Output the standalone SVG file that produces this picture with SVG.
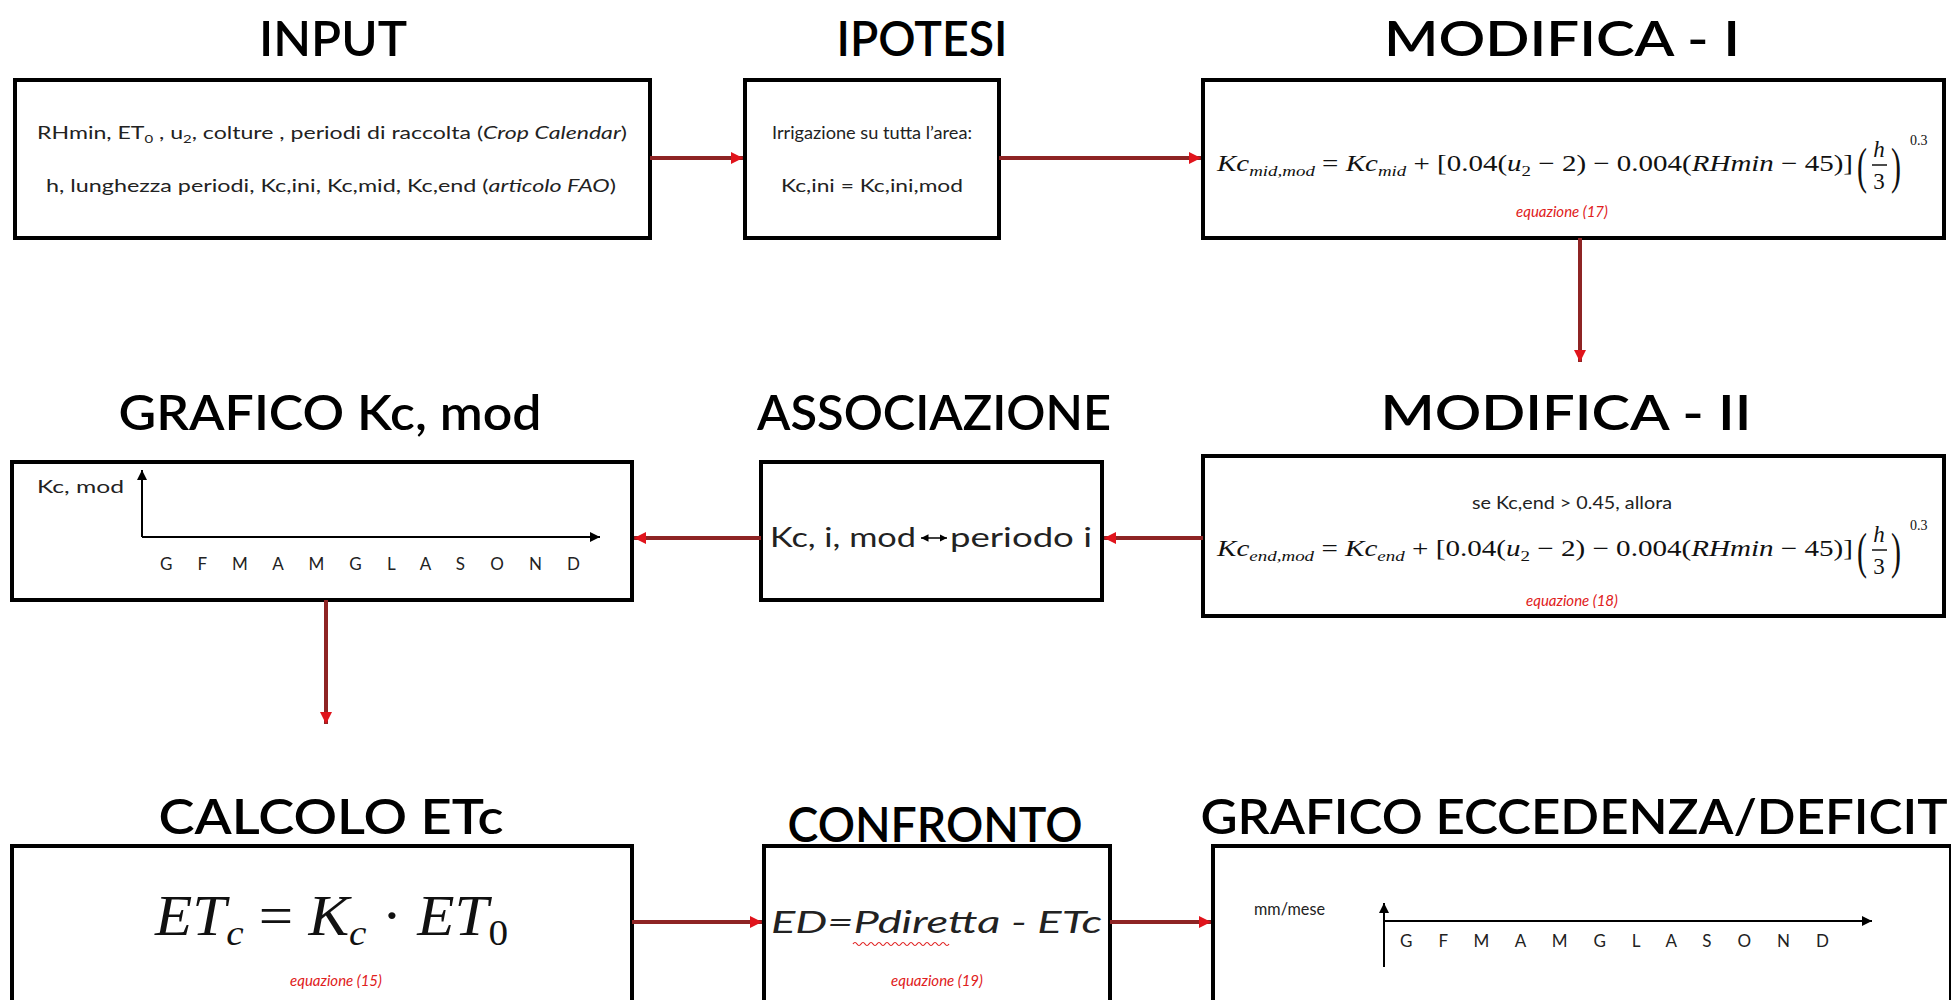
<svg xmlns="http://www.w3.org/2000/svg" width="1951" height="1000" viewBox="0 0 1951 1000">
<style>
.box{fill:#fff;stroke:#000;stroke-width:4}
.title{font-family:Lato,"Open Sans","DejaVu Sans",sans-serif;font-weight:600;fill:#000;text-anchor:middle}
.body{font-family:Lato,"Open Sans","Liberation Sans",sans-serif;fill:#222}
.math{font-family:"Liberation Serif","DejaVu Serif",serif;fill:#111}
.it{font-style:italic}
.eq{font-family:Lato,"Open Sans","Liberation Sans",sans-serif;font-style:italic;fill:#e02020;text-anchor:middle}
.conn{stroke:#8e2424;stroke-width:4;fill:none;marker-end:url(#ra)}
.axis{stroke:#000;stroke-width:2;fill:none;marker-end:url(#ba)}
.month{font-family:Lato,"Open Sans","Liberation Sans",sans-serif;fill:#222}
</style>
<defs>
<marker id="ra" viewBox="0 0 12 12" refX="12" refY="6" markerWidth="12" markerHeight="12" orient="auto" markerUnits="userSpaceOnUse"><path d="M0,0 L12,6 L0,12 z" fill="#e0141c"/></marker>
<marker id="ba" viewBox="0 0 10 10" refX="10" refY="5" markerWidth="5" markerHeight="5" orient="auto" markerUnits="strokeWidth"><path d="M0,0 L10,5 L0,10 z" fill="#000"/></marker>
<marker id="bs" viewBox="0 0 10 10" refX="0" refY="5" markerWidth="5" markerHeight="5" orient="auto" markerUnits="strokeWidth"><path d="M10,0 L0,5 L10,10 z" fill="#000"/></marker>
</defs>
<rect width="1951" height="1000" fill="#fff"/>

<g id="input">
<text class="title" x="333" y="56" font-size="48" textLength="148" lengthAdjust="spacingAndGlyphs">INPUT</text>
<rect class="box" x="15" y="80" width="635" height="158"/>
<text class="body" x="37" y="139" font-size="17" textLength="590" lengthAdjust="spacingAndGlyphs">RHmin, ET<tspan font-size="11" dy="4">0</tspan><tspan dy="-4"> , u</tspan><tspan font-size="11" dy="4">2</tspan><tspan dy="-4">, colture , periodi di raccolta (</tspan><tspan class="it">Crop Calendar</tspan>)</text>
<text class="body" x="46" y="192" font-size="17" textLength="570" lengthAdjust="spacingAndGlyphs">h, lunghezza periodi, Kc,ini, Kc,mid, Kc,end (<tspan class="it">articolo FAO</tspan>)</text>
</g>

<g id="ipotesi">
<text class="title" x="922" y="56" font-size="48" textLength="171" lengthAdjust="spacingAndGlyphs">IPOTESI</text>
<rect class="box" x="745" y="80" width="254" height="158"/>
<text class="body" x="872" y="139" font-size="17" text-anchor="middle" textLength="200" lengthAdjust="spacingAndGlyphs">Irrigazione su tutta l’area:</text>
<text class="body" x="872" y="192" font-size="17" text-anchor="middle" textLength="182" lengthAdjust="spacingAndGlyphs">Kc,ini = Kc,ini,mod</text>
</g>

<g id="modifica1">
<text class="title" x="1562" y="56" font-size="48" textLength="356" lengthAdjust="spacingAndGlyphs">MODIFICA - I</text>
<rect class="box" x="1203" y="80" width="741" height="158"/>
<text class="math" x="1217" y="171" font-size="23" textLength="636" lengthAdjust="spacingAndGlyphs"><tspan class="it">Kc</tspan><tspan class="it" font-size="15" dy="5">mid,mod</tspan><tspan dy="-5"> = </tspan><tspan class="it">Kc</tspan><tspan class="it" font-size="15" dy="5">mid</tspan><tspan dy="-5"> + [0.04(</tspan><tspan class="it">u</tspan><tspan font-size="15" dy="5">2</tspan><tspan dy="-5"> − 2) − 0.004(</tspan><tspan class="it">RHmin</tspan> − 45)]</text>
<text class="math" x="1857" y="183" font-size="50" transform="translate(1857 183) scale(0.6 1) translate(-1857 -183)">(</text>
<text class="math it" x="1879" y="157" font-size="23" text-anchor="middle">h</text>
<line x1="1872" y1="165" x2="1887" y2="165" stroke="#111" stroke-width="1.5"/>
<text class="math" x="1879" y="189" font-size="23" text-anchor="middle">3</text>
<text class="math" x="1891" y="183" font-size="50" transform="translate(1891 183) scale(0.6 1) translate(-1891 -183)">)</text>
<text class="math" x="1910" y="145" font-size="14">0.3</text>
<text class="eq" x="1562" y="217" font-size="15">equazione (17)</text>
</g>

<g id="modifica2">
<text class="title" x="1566" y="430" font-size="48" textLength="371" lengthAdjust="spacingAndGlyphs">MODIFICA - II</text>
<rect class="box" x="1203" y="456" width="741" height="160"/>
<text class="body" x="1572" y="509" font-size="17" text-anchor="middle" textLength="200" lengthAdjust="spacingAndGlyphs">se Kc,end &gt; 0.45, allora</text>
<text class="math" x="1217" y="556" font-size="23" textLength="636" lengthAdjust="spacingAndGlyphs"><tspan class="it">Kc</tspan><tspan class="it" font-size="15" dy="5">end,mod</tspan><tspan dy="-5"> = </tspan><tspan class="it">Kc</tspan><tspan class="it" font-size="15" dy="5">end</tspan><tspan dy="-5"> + [0.04(</tspan><tspan class="it">u</tspan><tspan font-size="15" dy="5">2</tspan><tspan dy="-5"> − 2) − 0.004(</tspan><tspan class="it">RHmin</tspan> − 45)]</text>
<text class="math" x="1857" y="568" font-size="50" transform="translate(1857 568) scale(0.6 1) translate(-1857 -568)">(</text>
<text class="math it" x="1879" y="542" font-size="23" text-anchor="middle">h</text>
<line x1="1872" y1="550" x2="1887" y2="550" stroke="#111" stroke-width="1.5"/>
<text class="math" x="1879" y="574" font-size="23" text-anchor="middle">3</text>
<text class="math" x="1891" y="568" font-size="50" transform="translate(1891 568) scale(0.6 1) translate(-1891 -568)">)</text>
<text class="math" x="1910" y="530" font-size="14">0.3</text>
<text class="eq" x="1572" y="606" font-size="15">equazione (18)</text>
</g>

<g id="associazione">
<text class="title" x="934" y="430" font-size="48" textLength="354" lengthAdjust="spacingAndGlyphs">ASSOCIAZIONE</text>
<rect class="box" x="761" y="462" width="341" height="138"/>
<text class="body" x="770" y="547" font-size="26" textLength="146" lengthAdjust="spacingAndGlyphs">Kc, i, mod</text>
<line x1="921" y1="538" x2="947" y2="538" stroke="#000" stroke-width="1.5" marker-end="url(#ba)" marker-start="url(#bs)"/>
<text class="body" x="950" y="547" font-size="26" textLength="142" lengthAdjust="spacingAndGlyphs">periodo i</text>
</g>

<g id="graficokc">
<text class="title" x="330" y="430" font-size="48" textLength="423" lengthAdjust="spacingAndGlyphs">GRAFICO Kc, mod</text>
<rect class="box" x="12" y="462" width="620" height="138"/>
<text class="body" x="37" y="493" font-size="17" textLength="87" lengthAdjust="spacingAndGlyphs">Kc, mod</text>
<line class="axis" x1="142" y1="537" x2="142" y2="470"/>
<line class="axis" x1="142" y1="537" x2="600" y2="537"/>
<text class="month" x="160" y="570" font-size="17" textLength="420" lengthAdjust="spacing">G F M A M G L A S O N D</text>
</g>

<g id="calcolo">
<text class="title" x="331" y="834" font-size="48" textLength="345" lengthAdjust="spacingAndGlyphs">CALCOLO ETc</text>
<rect class="box" x="12" y="846" width="620" height="160"/>
<text class="math it" x="155" y="935" font-size="56" textLength="353" lengthAdjust="spacingAndGlyphs">ET<tspan font-size="36" dy="10">c</tspan><tspan dy="-10" font-style="normal"> = </tspan>K<tspan font-size="36" dy="10">c</tspan><tspan dy="-10" font-style="normal"> · </tspan>ET<tspan font-size="36" dy="10" font-style="normal">0</tspan></text>
<text class="eq" x="336" y="986" font-size="15">equazione (15)</text>
</g>

<g id="confronto">
<text class="title" x="935" y="842" font-size="48" textLength="295" lengthAdjust="spacingAndGlyphs">CONFRONTO</text>
<rect class="box" x="764" y="846" width="346" height="160"/>
<text class="body it" x="771" y="933" font-size="31" textLength="331" lengthAdjust="spacingAndGlyphs">ED=Pdiretta - ETc</text>
<path d="M853,944 q2,-3 4,0 t4,0 t4,0 t4,0 t4,0 t4,0 t4,0 t4,0 t4,0 t4,0 t4,0 t4,0 t4,0 t4,0 t4,0 t4,0 t4,0 t4,0 t4,0 t4,0 t4,0 t4,0 t4,0 t4,0" stroke="#e02020" stroke-width="1.2" fill="none"/>
<text class="eq" x="937" y="986" font-size="15">equazione (19)</text>
</g>

<g id="graficoecc">
<text class="title" x="1574" y="834" font-size="48" textLength="747" lengthAdjust="spacingAndGlyphs">GRAFICO ECCEDENZA/DEFICIT</text>
<rect class="box" x="1213" y="846" width="738" height="160"/>
<text class="body" x="1254" y="915" font-size="17" textLength="71" lengthAdjust="spacingAndGlyphs">mm/mese</text>
<line x1="1384" y1="967" x2="1384" y2="921" stroke="#000" stroke-width="2"/>
<line class="axis" x1="1384" y1="921" x2="1384" y2="903"/>
<line class="axis" x1="1384" y1="921" x2="1872" y2="921"/>
<text class="month" x="1400" y="947" font-size="17" textLength="429" lengthAdjust="spacing">G F M A M G L A S O N D</text>
</g>

<g id="connectors">
<line class="conn" x1="650" y1="158" x2="743" y2="158"/>
<line class="conn" x1="999" y1="158" x2="1201" y2="158"/>
<line class="conn" x1="1580" y1="238" x2="1580" y2="362"/>
<line class="conn" x1="1203" y1="538" x2="1104" y2="538"/>
<line class="conn" x1="761" y1="538" x2="634" y2="538"/>
<line class="conn" x1="326" y1="600" x2="326" y2="724"/>
<line class="conn" x1="632" y1="922" x2="762" y2="922"/>
<line class="conn" x1="1110" y1="922" x2="1211" y2="922"/>
</g>
</svg>
